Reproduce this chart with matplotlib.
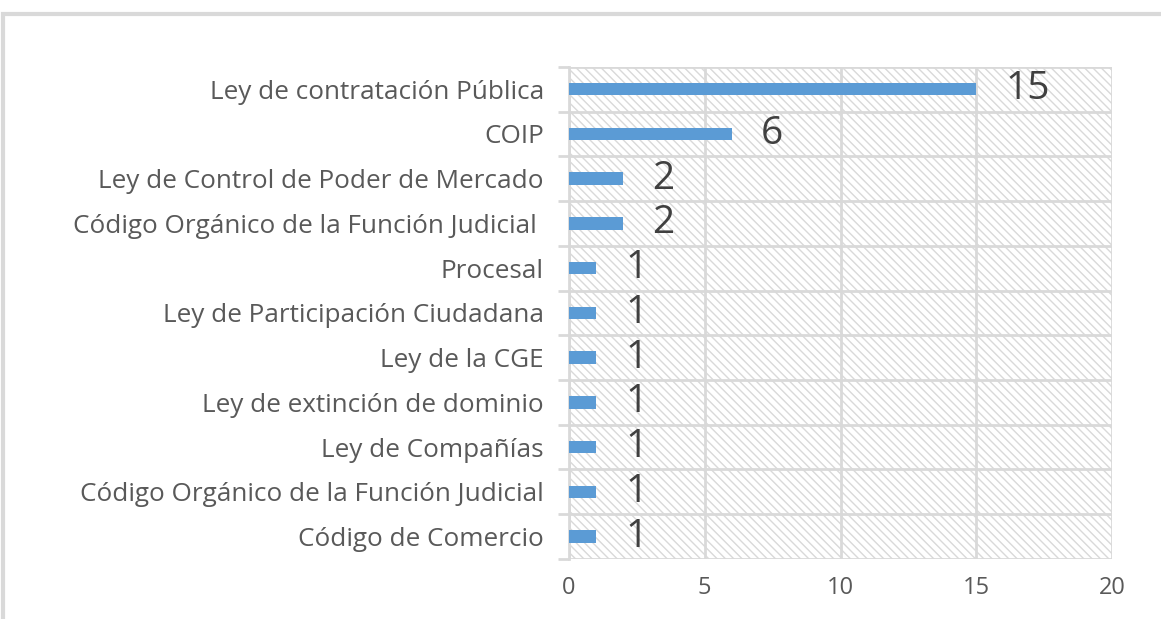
import matplotlib.pyplot as plt
import matplotlib.patches as mpatches
import numpy as np

plt.rcParams['font.family'] = ['Open Sans', 'DejaVu Sans']
plt.rcParams['hatch.color'] = '#d4d4d4'
plt.rcParams['hatch.linewidth'] = 1.0

# Datos
categorias = ['Ley de contratación Pública', 'COIP', 'Ley de Control de Poder de Mercado',
              'Código Orgánico de la Función Judicial ', 'Procesal',
              'Ley de Participación Ciudadana', 'Ley de la CGE',
              'Ley de extinción de dominio', 'Ley de Compañías',
              'Código Orgánico de la Función Judicial', 'Código de Comercio']
valores = [15, 6, 2, 2, 1, 1, 1, 1, 1, 1, 1]
xticks = [0, 5, 10, 15, 20]

gris = '#d9d9d9'
azul = '#5b9bd5'
texto = '#595959'

fig = plt.figure(figsize=(11.61, 6.19), dpi=100)
ax = fig.add_axes([0.490, 0.097, 0.468, 0.795])

y = np.arange(len(categorias))
ax.set_xlim(0, 20)
ax.set_ylim(len(categorias) - 0.5, -0.5)

# fondo rayado
fondo = mpatches.Rectangle((0, 0), 1, 1, transform=ax.transAxes, facecolor='white',
                           edgecolor=gris, hatch='\\\\\\\\', linewidth=0, zorder=0)
ax.add_patch(fondo)

barras = ax.barh(y, valores, height=0.28, color=azul, zorder=3)
for yi, v in zip(y, valores):
    ax.annotate(str(v), (v, yi), xytext=(21, 0), textcoords='offset points',
                ha='left', va='center', fontsize=28, color='#404040', zorder=4)

ax.set_yticks(y)
ax.set_yticklabels(categorias, fontsize=18.8, color=texto)
ax.tick_params(axis='y', which='major', length=0, pad=18)
ax.set_yticks(np.arange(-0.5, len(categorias), 1), minor=True)
ax.tick_params(axis='y', which='minor', length=8, color=gris, width=2)

ax.set_xticks(xticks)
ax.set_xticklabels([str(t) for t in xticks], fontsize=17, color=texto)
ax.tick_params(axis='x', length=0, pad=12)

ax.grid(True, which='minor', axis='y', color=gris, linewidth=2, zorder=1)
ax.grid(True, which='major', axis='x', color=gris, linewidth=2, zorder=1)
for s in ['top', 'right', 'bottom']:
    ax.spines[s].set_visible(False)
ax.spines['left'].set_color(gris)
ax.spines['left'].set_linewidth(2)
ax.set_axisbelow(True)

# marco del gráfico
fig.add_artist(mpatches.Rectangle((0.003, -0.1), 1.2, 1.078, transform=fig.transFigure,
                                  fill=False, edgecolor=gris, linewidth=3))

fig.savefig('out.png', dpi=100)
